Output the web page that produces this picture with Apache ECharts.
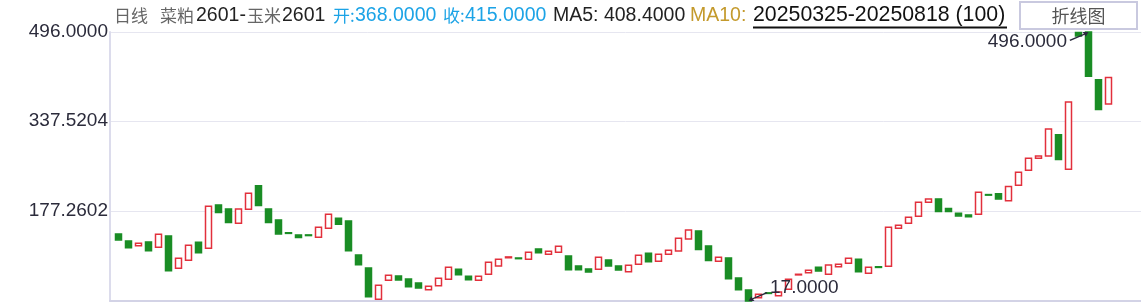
<!DOCTYPE html>
<html>
<head>
<meta charset="utf-8">
<script src="https://cdn.jsdelivr.net/npm/echarts@6/dist/echarts.min.js"></script>
<style>
html,body{margin:0;padding:0;background:#fff;}
#c{width:1141px;height:303px;}
</style>
</head>
<body>
<div id="c"></div>
<script>
var categories = [
'20250325','20250326','20250327','20250328','20250331',
'20250401','20250402','20250403','20250407','20250408','20250409','20250410','20250411',
'20250414','20250415','20250416','20250417','20250418','20250421','20250422','20250423',
'20250424','20250425','20250428','20250429','20250430',
'20250506','20250507','20250508','20250509','20250512','20250513','20250514','20250515',
'20250516','20250519','20250520','20250521','20250522','20250523','20250526','20250527',
'20250528','20250529','20250530',
'20250603','20250604','20250605','20250606','20250609','20250610','20250611','20250612',
'20250613','20250616','20250617','20250618','20250619','20250620','20250623','20250624',
'20250625','20250626','20250627','20250630',
'20250701','20250702','20250703','20250704','20250707','20250708','20250709','20250710',
'20250711','20250714','20250715','20250716','20250717','20250718','20250721','20250722',
'20250723','20250724','20250725','20250728','20250729','20250730','20250731',
'20250801','20250804','20250805','20250806','20250807','20250808','20250811','20250812',
'20250813','20250814','20250815','20250818'
];
var opens = [
136.4,124.0,115.6,122.2,112.7,132.9,75.3,89.6,121.7,111.0,
188.1,181.0,155.5,180.5,222.0,181.0,161.4,138.5,134.7,134.7,
130.6,146.6,164.4,159.6,99.0,75.8,20.0,53.9,61.6,56.2,
49.1,37.2,44.3,55.7,73.5,61.0,53.9,64.6,79.4,94.0,
93.6,91.3,109.7,100.3,103.8,97.2,79.4,74.1,73.5,90.1,
79.4,69.2,82.4,102.0,87.8,100.3,106.1,127.5,141.8,115.1,
87.8,93.7,58.0,36.6,23.0,31.5,26.5,37.9,63.5,67.5,
77.1,64.6,78.2,84.2,91.3,66.4,78.0,78.9,146.6,155.5,
168.0,193.0,198.8,181.5,173.3,170.3,171.6,206.5,207.8,195.3,
223.3,250.0,271.4,275.0,312.9,251.8,495.0,496.0,411.0,368.0
];
var closes = [
125.8,112.0,119.9,106.7,135.9,71.0,93.1,116.3,103.1,185.8,
174.4,156.6,181.0,209.0,186.9,156.6,136.4,137.4,129.9,133.5,
148.4,171.6,153.7,106.7,81.7,24.7,45.0,62.8,54.4,42.5,
40.2,43.2,57.5,77.1,63.9,55.0,61.0,86.0,91.3,95.5,
92.4,103.8,103.1,105.6,114.5,72.8,72.8,68.7,94.9,79.4,
72.3,80.7,98.5,87.1,100.3,107.4,128.8,143.6,108.5,88.9,
94.9,56.8,37.2,17.0,29.0,30.5,33.1,55.7,64.6,71.7,
70.5,81.2,82.4,93.1,69.2,77.1,76.8,148.4,152.0,166.2,
193.0,198.8,176.2,176.2,168.5,166.8,210.8,205.5,198.8,220.8,
246.4,271.4,275.0,323.1,268.9,371.2,489.0,417.0,358.0,415.0
];
var yMin = 17, yMax = 496;
var tickStep = 160.2602;

var candleData = opens.map(function (o, i) {
  var c = closes[i];
  return [o, c, Math.min(o, c), Math.max(o, c)];
});

var FONT = '"Liberation Sans", Arial, "Noto Sans CJK SC", sans-serif';
var CJK = '"Noto Sans CJK SC", sans-serif';
var UP = '#e2303c', DOWN = '#1a8d25';
var CYAN = '#1ba3e6';

var chart = echarts.init(document.getElementById('c'), null, {renderer: 'canvas'});
chart.setOption({
  animation: false,
  backgroundColor: '#ffffff',
  grid: [
    {left: 113.5, right: 27.5, top: 32, bottom: 2},
    {left: 110, right: 0, top: 32, bottom: 2}
  ],
  xAxis: [
    {type: 'category', gridIndex: 0, data: categories, boundaryGap: true,
     axisLine: {show: false}, axisTick: {show: false}, axisLabel: {show: false}, splitLine: {show: false}},
    {type: 'value', gridIndex: 1, min: 0, max: 1,
     axisLine: {show: true, lineStyle: {color: '#d3d3e6', width: 2}},
     axisTick: {show: false}, axisLabel: {show: false}, splitLine: {show: false}}
  ],
  yAxis: [
    {type: 'value', gridIndex: 0, min: yMin, max: yMax, show: false, splitLine: {show: false}},
    {type: 'value', gridIndex: 1, min: 0, max: yMax - yMin, interval: tickStep,
     axisLine: {show: true, lineStyle: {color: '#dcdcec', width: 2}},
     axisTick: {show: false},
     axisLabel: {show: true, showMinLabel: false, showMaxLabel: true, margin: 2,
       fontSize: 19, color: '#2b2b3b', fontFamily: FONT,
       formatter: function (v) { return (v + yMin).toFixed(4); }},
     splitLine: {show: true, lineStyle: {color: '#e6e6f0', width: 1}}}
  ],
  series: [{
    type: 'candlestick',
    xAxisIndex: 0, yAxisIndex: 0,
    data: candleData,
    barWidth: 6,
    itemStyle: {color: '#ffffff', color0: DOWN, borderColor: UP, borderColor0: DOWN, borderWidth: 1.5},
    markPoint: {
      silent: true,
      data: [
        {type: 'max', valueDim: 'highest',
         symbol: 'path://M0,8.2 L14.4,1.8 L13,0 L19,0 L16.2,5 L15.2,3 L0.8,9.4 Z',
         symbolSize: [19, 9], symbolKeepAspect: false, symbolOffset: [-9.5, 4.5],
         itemStyle: {color: '#2a2a3c'},
         label: {show: true, position: 'left', distance: 2.5, offset: [0, 5.7],
           fontSize: 19, color: '#2b2b3b', fontFamily: FONT,
           formatter: function (p) { return Number(p.value).toFixed(4); }}},
        {type: 'min', valueDim: 'lowest',
         symbol: 'path://M19,0.8 L4.6,7.2 L6,9 L0,9 L2.8,4 L3.8,6 L18.2,-0.4 Z',
         symbolSize: [19, 9], symbolKeepAspect: false, symbolOffset: [9.5, -4.5],
         itemStyle: {color: '#2a2a3c'},
         label: {show: true, position: 'right', distance: 2.5, offset: [0, -8.5],
           fontSize: 19, color: '#2b2b3b', fontFamily: FONT,
           formatter: function (p) { return Number(p.value).toFixed(4); }}}
      ]
    }
  }],
  graphic: [
    {type: 'text', x: 114, y: 16, style: {text: '日线', fontSize: 17, fill: '#666', fontFamily: CJK, verticalAlign: 'middle'}},
    {type: 'text', x: 160, y: 16, style: {text: '菜粕', fontSize: 17, fill: '#666', fontFamily: CJK, verticalAlign: 'middle'}},
    {type: 'text', x: 196, y: 16, style: {text: '2601-', fontSize: 19.5, fill: '#222', fontFamily: FONT, verticalAlign: 'middle'}},
    {type: 'text', x: 247, y: 16, style: {text: '玉米', fontSize: 17, fill: '#666', fontFamily: CJK, verticalAlign: 'middle'}},
    {type: 'text', x: 282, y: 16, style: {text: '2601', fontSize: 19.5, fill: '#222', fontFamily: FONT, verticalAlign: 'middle'}},
    {type: 'text', x: 333, y: 16, style: {text: '开:', fontSize: 17, fill: CYAN, fontFamily: CJK, verticalAlign: 'middle'}},
    {type: 'text', x: 355, y: 16, style: {text: '368.0000', fontSize: 19.5, fill: CYAN, fontFamily: FONT, verticalAlign: 'middle'}},
    {type: 'text', x: 443, y: 16, style: {text: '收:', fontSize: 17, fill: CYAN, fontFamily: CJK, verticalAlign: 'middle'}},
    {type: 'text', x: 465, y: 16, style: {text: '415.0000', fontSize: 19.5, fill: CYAN, fontFamily: FONT, verticalAlign: 'middle'}},
    {type: 'text', x: 553, y: 16, style: {text: 'MA5: 408.4000', fontSize: 19.5, fill: '#222', fontFamily: FONT, verticalAlign: 'middle'}},
    {type: 'text', x: 690, y: 16, style: {text: 'MA10:', fontSize: 19.5, fill: '#c49a2c', fontFamily: FONT, verticalAlign: 'middle'}},
    {type: 'text', x: 753, y: 15, style: {text: '20250325-20250818 (100)', fontSize: 21.3, fill: '#111', fontFamily: FONT, verticalAlign: 'middle'}},
    {type: 'line', shape: {x1: 753, y1: 27.5, x2: 1007, y2: 27.5}, style: {stroke: '#111', lineWidth: 2}},
    {type: 'rect', shape: {x: 1020, y: 2, width: 117, height: 27}, style: {fill: '#fff', stroke: '#c9c9df', lineWidth: 2}},
    {type: 'text', x: 1078.5, y: 16, style: {text: '折线图', fontSize: 18, fill: '#555', align: 'center', verticalAlign: 'middle', fontFamily: CJK}}
  ]
});
</script>
</body>
</html>
